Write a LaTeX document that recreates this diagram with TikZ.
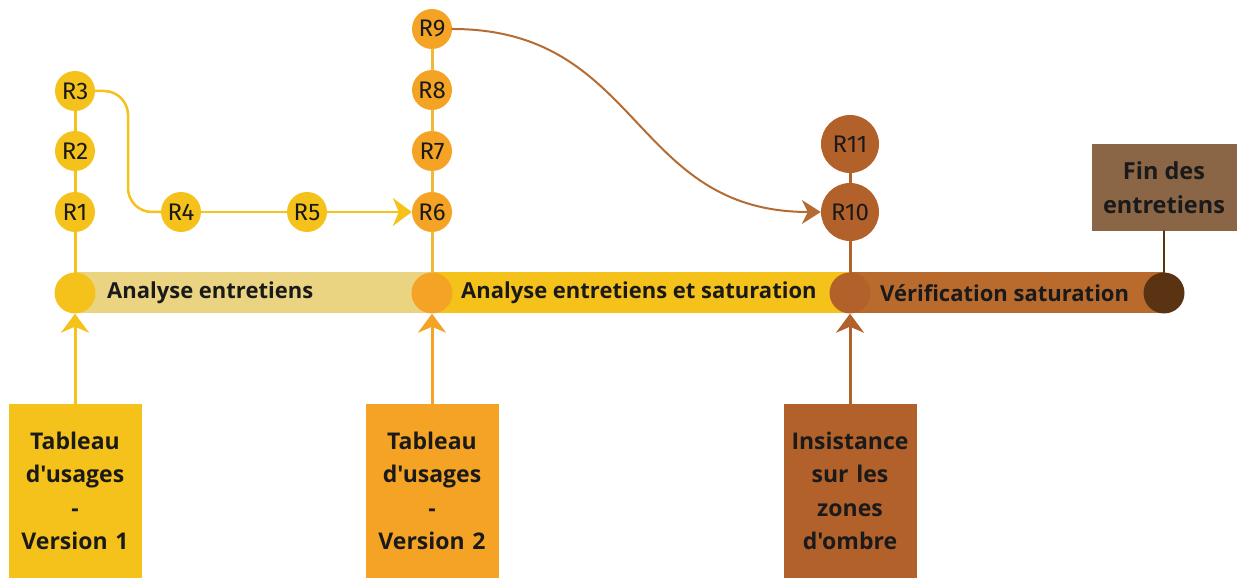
\documentclass[tikz,border=0pt]{standalone}
\usepackage{fontspec}
\setmainfont{Open Sans}[Ligatures=TeXOff]
\newfontfamily\rfont{Fira Sans}
\usetikzlibrary{arrows.meta,calc}
\definecolor{phaseA}{HTML}{F5C21C}
\definecolor{phaseB}{HTML}{F4A325}
\definecolor{phaseC}{HTML}{B3612A}
\definecolor{barA}{HTML}{EAD482}
\definecolor{barC}{HTML}{B96B2E}
\definecolor{barEnd}{HTML}{5A3412}
\definecolor{linkB}{HTML}{F0B83A}
\definecolor{curveC}{HTML}{B56C33}
\definecolor{finBox}{HTML}{8A6646}
\definecolor{ink}{HTML}{1A1A1A}

\tikzset{
  rnode/.style={circle, fill=#1, minimum size=40pt, inner sep=0pt,
    font=\rfont\fontsize{24}{24}\selectfont, text=ink},
  rbig/.style={rnode=phaseC, minimum size=58pt},
  barnode/.style={circle, fill=#1, minimum size=41pt, inner sep=0pt},
  bartext/.style={anchor=west, inner sep=0pt, text=ink,
    font=\bfseries\fontsize{22}{22}\selectfont},
  phasebox/.style={fill=#1, minimum width=133pt, minimum height=174pt,
    text width=128pt, align=center, inner sep=0pt, text=ink,
    font=\bfseries\fontsize{23}{33.5}\selectfont},
}

\begin{document}
\begin{tikzpicture}[x=1pt, y=1pt, line cap=round,
  >={Stealth[length=19pt, width=28pt, inset=6pt]}]
\useasboundingbox (0,0) rectangle (1239,585);
% frise
\fill[barA] (75,271.5) rectangle (432,312.5);
\fill[phaseA] (432,271.5) rectangle (850,312.5);
\fill[barC] (850,271.5) rectangle (1164,312.5);
\node[barnode=phaseA] (C1) at (75,292) {};
\node[barnode=phaseB] (C2) at (432,292) {};
\node[barnode=phaseC] (C3) at (850,292) {};
\node[barnode=barEnd] (C4) at (1164,292) {};
\node[bartext] (T1) at (107,292) {Analyse entretiens};
\node[bartext] (T2) at (461,292) {Analyse entretiens et saturation};
\node[bartext] (T3) at (880,292) {Vérification saturation};
% rencontres
\node[rnode=phaseA] (R1) at (75,373) {R1};
\node[rnode=phaseA] (R2) at (75,434) {R2};
\node[rnode=phaseA] (R3) at (75,494) {R3};
\node[rnode=phaseA] (R4) at (181,373) {R4};
\node[rnode=phaseA] (R5) at (307,373) {R5};
\node[rnode=phaseB] (R6) at (432,373) {R6};
\node[rnode=phaseB] (R7) at (432,434) {R7};
\node[rnode=phaseB] (R8) at (432,495) {R8};
\node[rnode=phaseB] (R9) at (432,556) {R9};
\node[rbig] (R10) at (850,373) {R10};
\node[rbig] (R11) at (850,441) {R11};
\draw[phaseA, line width=3pt] (C1) -- (R1) -- (R2) -- (R3);
\draw[phaseA, line width=2.5pt, rounded corners=24pt]
  (R3.east) -| ($(R3.east)!.5!(R4.west)$) |- (R4.west);
\draw[phaseA, line width=2.5pt] (R4) -- (R5);
\draw[->, phaseA, line width=2.5pt] (R5) -- (R6);
\draw[linkB, line width=3pt] (C2) -- (R6) -- (R7) -- (R8) -- (R9);
\draw[->, curveC, line width=2pt, >={Stealth[length=19pt, width=24pt, inset=6pt]}]
  (R9.east) .. controls +(190,0) and +(-190,0) .. (R10.west);
\draw[phaseC, line width=3pt] (C3) -- (R10) -- (R11);
% documents
\node[phasebox=phaseA] (B1) at (75,94) {Tableau\\d'usages\\-\\Version 1};
\node[phasebox=phaseB] (B2) at (432,94) {Tableau\\d'usages\\-\\Version 2};
\node[phasebox=phaseC] (B3) at (850,94) {Insistance\\sur les\\zones\\d'ombre};
\draw[->, phaseA, line width=3pt] (B1) -- (C1);
\draw[->, phaseB, line width=3pt] (B2) -- (C2);
\draw[->, phaseC, line width=3pt] (B3) -- (C3);
\node[fill=finBox, minimum width=145pt, minimum height=87pt, align=center,
  inner sep=0pt, text=ink, font=\bfseries\fontsize{23.5}{33.5}\selectfont]
  (F) at (1164,397.5) {Fin des\\entretiens};
\draw[barEnd, line width=2.5pt] (F) -- (C4);
\end{tikzpicture}
\end{document}
